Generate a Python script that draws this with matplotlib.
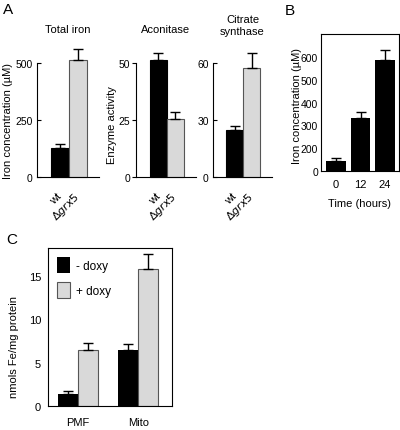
import matplotlib
matplotlib.use('Agg')
import matplotlib.pyplot as plt
import numpy as np

plt.rcParams['font.family'] = ['Liberation Sans', 'DejaVu Sans']
plt.rcParams['font.size'] = 8

# panel A data
strains = ['wt', r'$\Delta\mathit{grx5}$']
total_iron = [128, 515]
total_iron_err = [18, 47]
aconitase = [51.4, 25.3]
aconitase_err = [3.0, 3.3]
citrate = [24.5, 57.4]
citrate_err = [2.3, 8.0]

# panel B data (axis in the original starts at 100, labelled "0")
hours = ['0', '12', '24']
iron_time = [143, 331, 587]
iron_time_err = [13, 29, 45]
b_ticks = [100, 200, 300, 400, 500, 600]
b_ticklabels = ['0', '200', '300', '400', '500', '600']

# panel C data
fractions = ['PMF', 'Mito']
minus_doxy = [1.36, 6.43]
minus_doxy_err = [0.40, 0.74]
plus_doxy = [6.41, 15.76]
plus_doxy_err = [0.87, 1.70]

W, H = 400, 431
BLACK = '#000000'
GREY = '#d9d9d9'
EDGE = '#555555'
TICK_FS = 7.5
LABEL_FS = 8


def axes_px(fig, x0, y0, x1, y1):
    # pixel box (top-left origin) -> figure axes
    return fig.add_axes([x0 / W, 1 - y1 / H, (x1 - x0) / W, (y1 - y0) / H])


fig = plt.figure(figsize=(W / 100, H / 100), dpi=100)


def panel_a(ax, vals, errs, top, ticks, title, tick_dir, title_pad=22, pad=3):
    x = np.arange(len(vals))
    ax.bar(x, vals, width=1.0, color=[BLACK, GREY], edgecolor=[BLACK, EDGE],
           linewidth=0.8, clip_on=False, zorder=2)
    ax.errorbar(x, vals, yerr=[[0] * len(errs), errs], fmt='none', ecolor='black',
                elinewidth=1, capsize=3.5, capthick=1, clip_on=False, zorder=3)
    ax.set_ylim(0, top)
    ax.set_xlim(-1.3, 2.2)
    ax.set_yticks(ticks)
    ax.spines['top'].set_visible(False)
    ax.spines['right'].set_visible(False)
    ax.spines['left'].set_bounds(0, top)
    ax.tick_params(axis='y', direction=tick_dir, length=3, width=0.8, pad=pad,
                   labelsize=TICK_FS)
    ax.set_xticks(x)
    ax.set_xticklabels(strains, rotation=45, ha='right', va='center',
                       rotation_mode='anchor')
    ax.tick_params(axis='x', length=0, pad=12, labelsize=TICK_FS + 0.5)
    ax.set_title(title, fontsize=LABEL_FS, pad=title_pad)


ax1 = axes_px(fig, 37, 64, 99, 178)
panel_a(ax1, total_iron, total_iron_err, 500, [0, 250, 500], 'Total iron', 'in')
ax1.set_ylabel('Iron concentration (\u00b5M)', fontsize=LABEL_FS)
ax1.yaxis.set_label_coords(-0.39, 0.5)

ax2 = axes_px(fig, 136, 64, 196, 178)
panel_a(ax2, aconitase, aconitase_err, 50, [0, 25, 50], 'Aconitase', 'out', pad=1.2)
ax2.set_ylabel('Enzyme activity', fontsize=LABEL_FS)
ax2.yaxis.set_label_coords(-0.31, 0.46)

ax3 = axes_px(fig, 213, 64, 272, 178)
panel_a(ax3, citrate, citrate_err, 60, [0, 30, 60], 'Citrate\nsynthase', 'in',
        title_pad=21)

# panel B
axb = axes_px(fig, 321, 35, 399, 172)
xb = np.arange(len(iron_time))
axb.bar(xb, iron_time, width=0.8, color=BLACK, zorder=2)
axb.errorbar(xb, iron_time, yerr=[[0] * 3, iron_time_err], fmt='none',
             ecolor='black', elinewidth=1, capsize=3.5, capthick=1, zorder=3)
axb.set_ylim(100, 701)
axb.set_xlim(-0.62, 2.57)
axb.set_yticks(b_ticks)
axb.set_yticklabels(b_ticklabels)
axb.set_xticks(xb)
axb.set_xticklabels(hours)
axb.tick_params(axis='y', length=0, pad=2, labelsize=TICK_FS)
axb.tick_params(axis='x', length=0, pad=6, labelsize=LABEL_FS)
axb.set_xlabel('Time (hours)', fontsize=LABEL_FS, labelpad=6)
axb.set_ylabel('Iron concentration (\u00b5M)', fontsize=LABEL_FS)
axb.yaxis.set_label_coords(-0.25, 0.485)

# panel C
axc = axes_px(fig, 48, 249, 172, 407)
xc = np.arange(len(fractions))
bw = 0.33
axc.bar(xc - bw / 2, minus_doxy, width=bw, color=BLACK, label='- doxy', zorder=2)
axc.bar(xc + bw / 2, plus_doxy, width=bw, color=GREY, edgecolor=EDGE,
        linewidth=0.8, label='+ doxy', zorder=2)
axc.errorbar(xc - bw / 2, minus_doxy, yerr=[[0] * 2, minus_doxy_err], fmt='none',
             ecolor='black', elinewidth=1, capsize=3.5, capthick=1, zorder=3)
axc.errorbar(xc + bw / 2, plus_doxy, yerr=[[0] * 2, plus_doxy_err], fmt='none',
             ecolor='black', elinewidth=1, capsize=3.5, capthick=1, zorder=3)
axc.set_ylim(0, 18.2)
axc.set_xlim(-0.5, 1.56)
axc.set_yticks([0, 5, 10, 15])
axc.set_xticks(xc)
axc.set_xticklabels(fractions)
axc.tick_params(axis='y', length=0, pad=5, labelsize=LABEL_FS)
axc.tick_params(axis='x', length=0, pad=8, labelsize=LABEL_FS)
axc.set_ylabel('nmols Fe/mg protein', fontsize=LABEL_FS)
axc.yaxis.set_label_coords(-0.23, 0.38)
axc.legend(loc='upper left', frameon=False, fontsize=LABEL_FS + 0.5,
           handlelength=1.1, handleheight=1.7, labelspacing=0.75,
           handletextpad=0.5, borderaxespad=0.4)

# panel letters
fig.text(3 / W, 1 - 14 / H, 'A', fontsize=11)
fig.text(285 / W, 1 - 15 / H, 'B', fontsize=11)
fig.text(6 / W, 1 - 244 / H, 'C', fontsize=11)

fig.savefig('out.png', dpi=100)
